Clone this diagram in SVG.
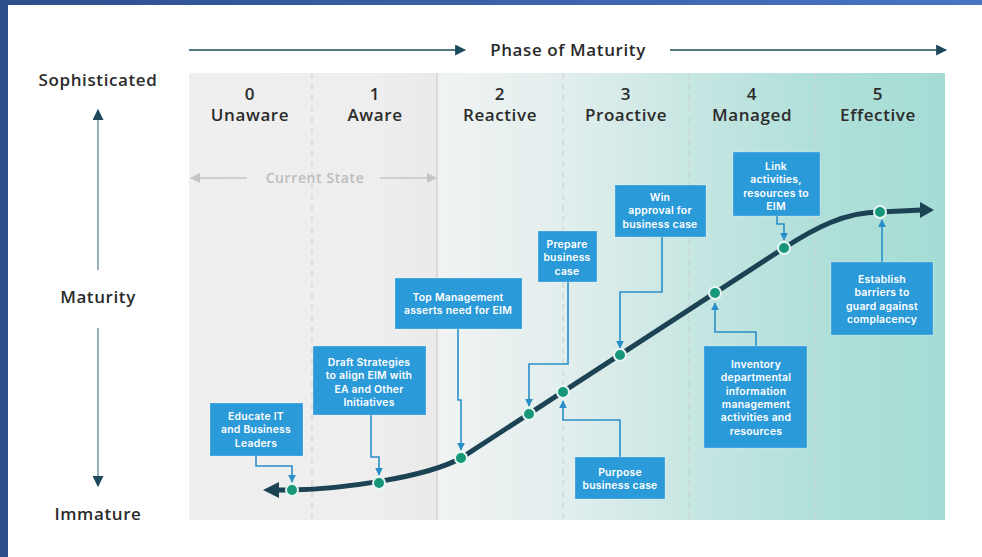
<svg xmlns="http://www.w3.org/2000/svg" width="982" height="557" viewBox="0 0 982 557">
<defs>
  <linearGradient id="frame" x1="0" y1="0" x2="1" y2="0">
    <stop offset="0" stop-color="#2c4f8c"/>
    <stop offset="1" stop-color="#4a74c4"/>
  </linearGradient>
  <linearGradient id="panel" x1="0" y1="0" x2="1" y2="0">
    <stop offset="0" stop-color="#efefef"/>
    <stop offset="0.25" stop-color="#eeeeee"/>
    <stop offset="0.326" stop-color="#eaeaea"/>
    <stop offset="0.33" stop-color="#f1f3f3"/>
    <stop offset="0.5" stop-color="#e1eeed"/>
    <stop offset="0.67" stop-color="#c6e6e2"/>
    <stop offset="0.84" stop-color="#afdfd9"/>
    <stop offset="1" stop-color="#a5dcd5"/>
  </linearGradient>
  <marker id="ah" viewBox="0 0 10 10" refX="9" refY="5" markerWidth="8" markerHeight="8" markerUnits="userSpaceOnUse" orient="auto">
    <path d="M0,0 L10,5 L0,10 z" fill="#2a8fc8"/>
  </marker>
  <marker id="axh" viewBox="0 0 10 10" refX="9" refY="5" markerWidth="11" markerHeight="11" markerUnits="userSpaceOnUse" orient="auto">
    <path d="M0,0 L10,5 L0,10 z" fill="#1c4a5c"/>
  </marker>
  <marker id="gh" viewBox="0 0 10 10" refX="9" refY="5" markerWidth="10" markerHeight="10" markerUnits="userSpaceOnUse" orient="auto">
    <path d="M0,0 L10,5 L0,10 z" fill="#c4c4c4"/>
  </marker>
  <style>
    .hd{font-family:"Open Sans","Noto Sans",sans-serif;font-weight:600;fill:#2b2b2b;text-anchor:middle;letter-spacing:0.6px}
    .col{font-size:17px}
    .ax{font-size:17px}
    .bx rect{fill:#2b9ad9;stroke:#ffffff;stroke-opacity:0.25;stroke-width:1}
    .bx text{font-family:Inter,"Liberation Sans",sans-serif;font-weight:600;font-size:10.4px;letter-spacing:0.25px;fill:#ffffff;text-anchor:middle}
    .cn{fill:none;stroke:#2a8fc8;stroke-width:1.6;marker-end:url(#ah)}
    .dot{fill:#17977a;stroke:#e8f6f2;stroke-width:2}
    .div{stroke:#c9cfcf;stroke-width:1;stroke-dasharray:6 5}
  </style>
</defs>

<!-- frame -->
<rect x="0" y="0" width="982" height="557" fill="#ffffff"/>
<rect x="0" y="0" width="982" height="5" fill="url(#frame)"/>
<rect x="0" y="0" width="8" height="557" fill="#2c4f8c"/>

<!-- panel -->
<g id="panel">
  <rect x="189" y="73" width="756" height="447" fill="url(#panel)"/>
  <line class="div" x1="312" y1="73" x2="312" y2="520"/>
  <line x1="437" y1="73" x2="437" y2="520" stroke="#c6c6c6" stroke-width="1"/>
  <line class="div" x1="563" y1="73" x2="563" y2="520"/>
  <line class="div" x1="689" y1="73" x2="689" y2="520"/>
  <line class="div" x1="815" y1="73" x2="815" y2="520"/>
</g>

<!-- top axis -->
<g id="phase-axis">
  <line x1="189" y1="50" x2="465" y2="50" stroke="#1c4a5c" stroke-width="1.5" marker-end="url(#axh)"/>
  <text class="hd ax" x="568" y="56">Phase of Maturity</text>
  <line x1="670" y1="50" x2="946" y2="50" stroke="#1c4a5c" stroke-width="1.5" marker-end="url(#axh)"/>
</g>

<!-- column headers -->
<g id="col0"><text class="hd col" x="250" y="100">0</text><text class="hd col" x="250" y="121">Unaware</text></g>
<g id="col1"><text class="hd col" x="375" y="100">1</text><text class="hd col" x="375" y="121">Aware</text></g>
<g id="col2"><text class="hd col" x="500" y="100">2</text><text class="hd col" x="500" y="121">Reactive</text></g>
<g id="col3"><text class="hd col" x="626" y="100">3</text><text class="hd col" x="626" y="121">Proactive</text></g>
<g id="col4"><text class="hd col" x="752" y="100">4</text><text class="hd col" x="752" y="121">Managed</text></g>
<g id="col5"><text class="hd col" x="878" y="100">5</text><text class="hd col" x="878" y="121">Effective</text></g>

<!-- left axis -->
<g id="maturity-axis">
  <text class="hd ax" x="98" y="86">Sophisticated</text>
  <line x1="98" y1="270" x2="98" y2="110" stroke="#5b8a93" stroke-width="1.3" marker-end="url(#axh)"/>
  <text class="hd ax" x="98" y="303">Maturity</text>
  <line x1="98" y1="328" x2="98" y2="486" stroke="#5b8a93" stroke-width="1.3" marker-end="url(#axh)"/>
  <text class="hd ax" x="98" y="520">Immature</text>
</g>

<!-- current state -->
<g id="current-state">
  <line x1="247" y1="178" x2="191" y2="178" stroke="#c4c4c4" stroke-width="1.5" marker-end="url(#gh)"/>
  <text x="315" y="183" font-family="Open Sans, Noto Sans, sans-serif" font-weight="600" font-size="14px" letter-spacing="0.6px" fill="#bdbdbd" text-anchor="middle">Current State</text>
  <line x1="380" y1="178" x2="436" y2="178" stroke="#c4c4c4" stroke-width="1.5" marker-end="url(#gh)"/>
</g>

<!-- connectors -->
<g id="connectors">
  <path id="curve" d="M278 490 L292 490 C340 489 425 478 461 458 L784 248 C815 228 845 212 880 212 L922 210" fill="none" stroke="#1b4354" stroke-width="5"/>
  <path d="M263 490 L279 482 L279 498 z" fill="#1b4354"/>
  <path d="M920 202 L934 210 L920 218 z" fill="#1b4354"/>
  <path class="cn" d="M256 456 V466 H292 V482"/>
  <path class="cn" d="M371 415 V457 H379 V475"/>
  <path class="cn" d="M458 329 V400 H461 V450"/>
  <path class="cn" d="M568 282 V364 H529 V406"/>
  <path class="cn" d="M662 237 V292 H620 V348"/>
  <path class="cn" d="M777 216 V224 H784 V240"/>
  <path class="cn" d="M882 262 V220"/>
  <path class="cn" d="M756 346 V332 H715 V303"/>
  <path class="cn" d="M620 457 V420 H563 V401"/>
</g>

<!-- dots -->
<g id="milestones">
  <circle class="dot" cx="292" cy="490" r="6"/>
  <circle class="dot" cx="379" cy="483" r="6"/>
  <circle class="dot" cx="461" cy="458" r="6"/>
  <circle class="dot" cx="529" cy="414" r="6"/>
  <circle class="dot" cx="563" cy="392" r="6"/>
  <circle class="dot" cx="620" cy="355" r="6"/>
  <circle class="dot" cx="715" cy="293" r="6"/>
  <circle class="dot" cx="784" cy="248" r="6"/>
  <circle class="dot" cx="880" cy="212" r="6"/>
</g>

<!-- boxes -->
<g id="educate" class="bx"><rect x="210" y="403" width="93" height="53"/>
  <text x="256" y="420">Educate IT</text><text x="256" y="433.3">and Business</text><text x="256" y="446.6">Leaders</text></g>
<g id="draft" class="bx"><rect x="313" y="346" width="113" height="69"/>
  <text x="369" y="366">Draft Strategies</text><text x="369" y="379.3">to align EIM with</text><text x="369" y="392.6">EA and Other</text><text x="369" y="405.9">Initiatives</text></g>
<g id="topmgmt" class="bx"><rect x="395" y="278" width="127" height="51"/>
  <text x="458" y="301">Top Management</text><text x="458" y="314.3">asserts need for EIM</text></g>
<g id="prepare" class="bx"><rect x="538" y="231" width="59" height="51"/>
  <text x="567" y="248">Prepare</text><text x="567" y="261.3">business</text><text x="567" y="274.6">case</text></g>
<g id="win" class="bx"><rect x="615" y="185" width="91" height="52"/>
  <text x="660" y="201">Win</text><text x="660" y="214.3">approval for</text><text x="660" y="227.6">business case</text></g>
<g id="link" class="bx"><rect x="733" y="152" width="87" height="64"/>
  <text x="776" y="170">Link</text><text x="776" y="183.3">activities,</text><text x="776" y="196.6">resources to</text><text x="776" y="209.9">EIM</text></g>
<g id="establish" class="bx"><rect x="831" y="262" width="102" height="73"/>
  <text x="882" y="283">Establish</text><text x="882" y="296.3">barriers to</text><text x="882" y="309.6">guard against</text><text x="882" y="322.9">complacency</text></g>
<g id="inventory" class="bx"><rect x="704" y="346" width="103" height="102"/>
  <text x="756" y="368">Inventory</text><text x="756" y="381.3">departmental</text><text x="756" y="394.6">information</text><text x="756" y="407.9">management</text><text x="756" y="421.2">activities and</text><text x="756" y="434.5">resources</text></g>
<g id="purpose" class="bx"><rect x="575" y="457" width="90" height="42"/>
  <text x="620" y="476">Purpose</text><text x="620" y="489.3">business case</text></g>
</svg>
